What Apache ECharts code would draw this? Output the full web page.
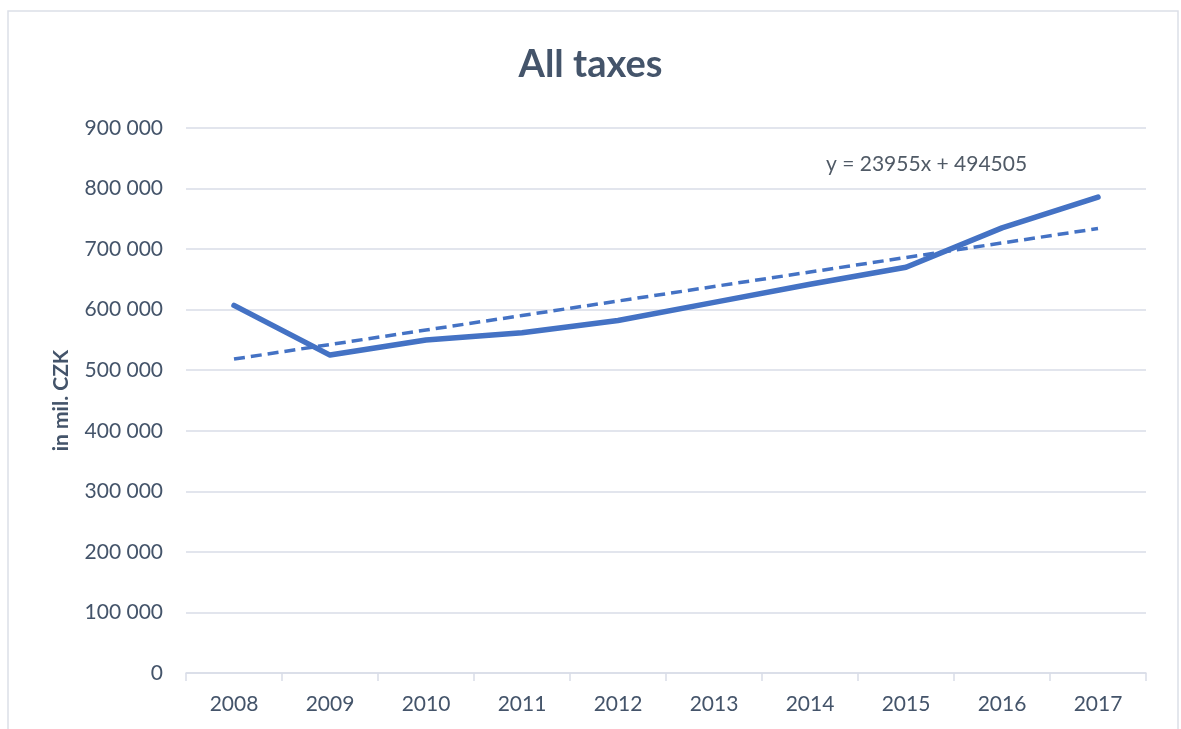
<!DOCTYPE html>
<html>
<head>
<meta charset="utf-8">
<title>All taxes</title>
<script src="https://cdn.jsdelivr.net/npm/echarts@6/dist/echarts.min.js"></script>
<style>
  html, body { margin: 0; padding: 0; background: #ffffff; }
  #chart { width: 1181px; height: 729px; }
</style>
</head>
<body>
<div id="chart"></div>
<script>
// Years on the category axis
const years = ['2008', '2009', '2010', '2011', '2012', '2013', '2014', '2015', '2016', '2017'];
// Total tax revenue, in mil. CZK
const taxes = [607000, 525000, 550000, 562000, 582000, 612000, 642000, 670000, 735000, 786000];
// Linear trend as stated by its equation (x = 1 for the first year)
const trendSlope = 23955;
const trendIntercept = 494505;
const trendLabel = 'y = 23955x + 494505';
// Value axis ticks
const yTicks = [0, 100000, 200000, 300000, 400000, 500000, 600000, 700000, 800000, 900000];

const trend = years.map((_, i) => trendSlope * (i + 1) + trendIntercept);

const textColor = '#44546a';
const gridColor = '#d9dde7';
const lineBlue = '#4472c4';
const font = 'Lato, "Open Sans", sans-serif';

const fmt = v => String(v).replace(/\B(?=(\d{3})+(?!\d))/g, ' ');

const chart = echarts.init(document.getElementById('chart'), null, { renderer: 'canvas' });
chart.setOption({
  backgroundColor: '#ffffff',
  animation: false,
  title: {
    text: 'All taxes',
    left: 'center',
    top: 41,
    textStyle: { fontFamily: font, fontSize: 38, fontWeight: 'bold', color: textColor }
  },
  graphic: [
    {
      type: 'rect',
      shape: { x: 8, y: 11, width: 1170, height: 740 },
      style: { fill: 'none', stroke: '#dcdfe8', lineWidth: 1.5 },
      silent: true,
      z: -1
    },
    {
      type: 'text',
      left: 826,
      top: 154,
      style: { text: trendLabel, fontFamily: font, fontSize: 21, fill: '#505a66' }
    }
  ],
  grid: { left: 186, right: 35, top: 128, bottom: 56, containLabel: false },
  xAxis: {
    type: 'category',
    data: years,
    boundaryGap: true,
    axisLine: { lineStyle: { color: gridColor, width: 1.5 } },
    axisTick: { show: true, alignWithLabel: false, length: 8, lineStyle: { color: gridColor, width: 1.5 } },
    axisLabel: { fontFamily: font, fontSize: 21, color: textColor, margin: 21 },
    splitLine: { show: false }
  },
  yAxis: {
    type: 'value',
    min: yTicks[0],
    max: yTicks[yTicks.length - 1],
    interval: yTicks[1] - yTicks[0],
    name: 'in mil. CZK',
    nameLocation: 'middle',
    nameGap: 114,
    nameTextStyle: { fontFamily: font, fontSize: 21, fontWeight: 'bold', color: textColor },
    axisLine: { show: false },
    axisTick: { show: false },
    axisLabel: { fontFamily: font, fontSize: 21, color: textColor, margin: 23, formatter: fmt },
    splitLine: { lineStyle: { color: gridColor, width: 1.5 } }
  },
  series: [
    {
      name: 'All taxes',
      type: 'line',
      data: taxes,
      symbol: 'none',
      lineStyle: { color: lineBlue, width: 5.5, cap: 'round', join: 'round' },
      z: 3
    },
    {
      name: 'Linear trend',
      type: 'line',
      data: trend,
      symbol: 'none',
      lineStyle: { color: lineBlue, width: 3.5, type: [11, 6] },
      z: 2
    }
  ]
});
</script>
</body>
</html>
